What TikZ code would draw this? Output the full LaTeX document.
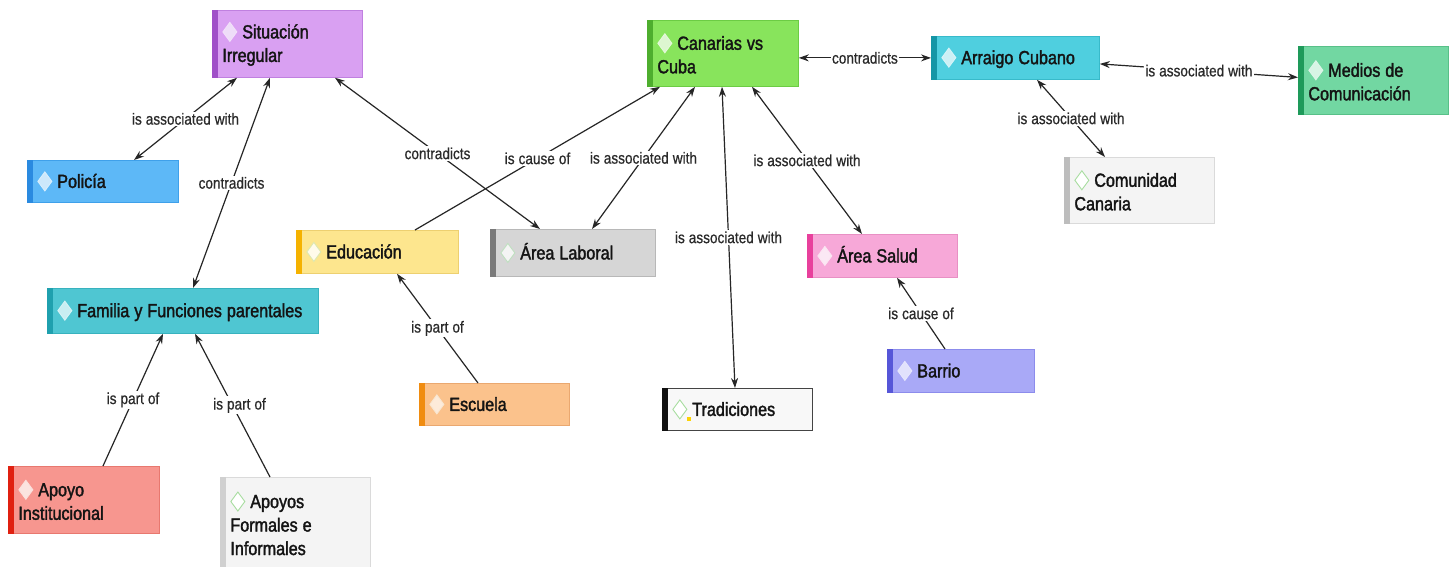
\documentclass[tikz,border=0pt]{standalone}
\usepackage{fontspec}
\setmainfont{Liberation Sans}[FakeStretch=0.85]
\newfontfamily\nodefont{Liberation Sans}[FakeStretch=0.85, FakeBold=1.8]
\newfontfamily\lblfont{Liberation Sans}[FakeStretch=0.85, FakeBold=0.7]
\usetikzlibrary{arrows.meta,calc}
\definecolor{txt}{HTML}{141414}
\definecolor{lbltxt}{HTML}{2A2A2A}
\definecolor{lin}{HTML}{262626}
\newcommand\defpal[6]{%
  \definecolor{#1f}{HTML}{#2}\definecolor{#1s}{HTML}{#3}\definecolor{#1b}{HTML}{#4}%
  \definecolor{#1d}{HTML}{#5}\definecolor{#1i}{HTML}{#6}}
% prefix, fill, stripe, border, diamond draw, diamond fill
\defpal{sit}{D9A0F2}{A050C8}{C080E0}{F2E0FA}{EEDDF8}
\defpal{pol}{5DB8F7}{2A8AE0}{3FA0EA}{D8EEFC}{CDE8FB}
\defpal{fam}{4FC6D2}{1FA0AE}{38B2BE}{D6F2F5}{C8EEF2}
\defpal{api}{F7968F}{E02010}{E8786F}{FBE0DC}{FBE4E0}
\defpal{apf}{F4F4F4}{D0D0D0}{DADADA}{A8DDA0}{FFFFFF}
\defpal{edu}{FDE68E}{F5B200}{EDD070}{DDE8B0}{FFFBEA}
\defpal{lab}{D6D6D6}{7A7A7A}{B8B8B8}{BFE0C0}{F4F4F4}
\defpal{esc}{FBC28C}{F08C10}{EAA870}{F8E6D0}{FDEBDA}
\defpal{can}{88E45C}{4EAE2E}{6CCC44}{E4F8DA}{DDF6D0}
\defpal{tra}{F8F8F8}{111111}{444444}{A8DDA0}{FFFFFF}
\defpal{sal}{F7A8D8}{E8409C}{E890C4}{FCE4F2}{FBE8F4}
\defpal{bar}{A9A9F7}{5656D8}{8C8CEC}{E6E6FD}{E2E2FC}
\defpal{arr}{4FCFDF}{1596A6}{38BACA}{D6F4F8}{CCF0F5}
\defpal{com}{F4F4F4}{BDBDBD}{DADADA}{A8DDA0}{FFFFFF}
\defpal{med}{72D7A2}{1E9A5A}{58C088}{DDF5E8}{D8F4E5}
\newcommand\dmd[1]{\tikz[baseline=-6.5pt]\filldraw[draw=#1d,fill=#1i,line width=0.9pt]
  (0pt,0pt)--(7pt,9.5pt)--(14pt,0pt)--(7pt,-9.5pt)--cycle;\hspace{5pt}}
\newcommand\lb[1]{\spaceskip=4pt plus 1pt\relax #1}
\tikzset{
  cbox/.style={rectangle, anchor=north west, inner xsep=10pt, inner ysep=0pt,
    align=left, font=\nodefont\fontsize{19}{23.5}\selectfont, text=txt, line width=0.8pt},
  conn/.style={draw=lin, line width=1.2pt},
  both/.style={conn, {Stealth[length=10pt,width=7pt]}-{Stealth[length=10pt,width=7pt]}},
  one/.style={conn, -{Stealth[length=10pt,width=7pt]}},
  lbl/.style={fill=white, inner sep=1.5pt, font=\lblfont\fontsize{16}{18}\selectfont, text=lbltxt}
}
% name, x1, y1, w, h, textwidth, palette, text
\newcommand\cnode[8]{%
  \node[cbox, draw=#7b, fill=#7f, minimum width=#4, minimum height=#5, text width=#6pt] (#1) at (#2,#3) {\spaceskip=5pt plus 1pt\relax\dmd{#7}#8};
  \fill[#7s] (#1.north west) rectangle ([xshift=6pt]#1.south west);
}
\begin{document}
\begin{tikzpicture}[x=1pt,y=-1pt]
\fill[white] (0,0) rectangle (1456,567);
\useasboundingbox (0,0) rectangle (1456,567);

\cnode{sit}{212}{10}{150}{67}{130}{sit}{Situación\\Irregular}
\cnode{pol}{27}{160}{151}{42}{131}{pol}{Policía}
\cnode{fam}{47}{288}{271}{45}{251}{fam}{Familia y Funciones parentales}
\cnode{api}{8}{466}{151}{67}{131}{api}{Apoyo\\Institucional}
\cnode{apf}{220}{477}{150}{92}{130}{apf}{Apoyos\\Formales e\\Informales}
\cnode{edu}{296}{230}{162}{43}{142}{edu}{Educación}
\cnode{lab}{490}{229}{165}{47}{145}{lab}{Área Laboral}
\cnode{esc}{419}{383}{150}{42}{130}{esc}{Escuela}
\cnode{can}{647}{20}{151}{66}{131}{can}{Canarias vs\\Cuba}
\cnode{tra}{662}{388}{150}{42}{130}{tra}{Tradiciones}
\cnode{sal}{807}{234}{150}{43}{130}{sal}{Área Salud}
\cnode{bar}{887}{349}{147}{43}{127}{bar}{Barrio}
\cnode{arr}{931}{36}{168}{43}{148}{arr}{Arraigo Cubano}
\cnode{com}{1064}{157}{150}{66}{130}{com}{Comunidad\\Canaria}
\cnode{med}{1298}{46}{150}{68}{130}{med}{Medios de\\Comunicación}

% small yellow mark on Tradiciones icon
\fill[yellow!70!orange] ([xshift=25pt,yshift=-29pt]tra.north west) rectangle ([xshift=29pt,yshift=-33pt]tra.north west);

\draw[both] ([xshift=25pt]sit.south west) -- node[lbl]{\lb{is associated with}} ([xshift=107pt]pol.north west);
\draw[both] ([xshift=58pt]sit.south west) -- node[lbl]{contradicts} ([xshift=146pt]fam.north west);
\draw[both] ([xshift=123pt]sit.south west) -- node[lbl]{contradicts} ([xshift=50pt]lab.north west);
\draw[one] ([xshift=119pt]edu.north west) -- node[lbl]{\lb{is cause of}} ([xshift=13pt]can.south west);
\draw[both] ([xshift=102pt]lab.north west) -- node[lbl]{\lb{is associated with}} ([xshift=48pt]can.south west);
\draw[both] ([xshift=75pt]can.south west) -- node[lbl]{\lb{is associated with}} ([xshift=73pt]tra.north west);
\draw[both] ([xshift=105pt]can.south west) -- node[lbl]{\lb{is associated with}} ([xshift=55pt]sal.north west);
\draw[both] (can.east |- arr.west) -- node[lbl]{contradicts} (arr.west);
\draw[both] ([yshift=-6pt]arr.east) -- node[lbl]{\lb{is associated with}} ([yshift=3pt]med.west);
\draw[both] ([xshift=106pt]arr.south west) -- node[lbl]{\lb{is associated with}} ([xshift=41pt]com.north west);
\draw[one] ([xshift=59pt]esc.north west) -- node[lbl]{\lb{is part of}} ([xshift=101pt]edu.south west);
\draw[one] ([xshift=58pt]bar.north west) -- node[lbl]{\lb{is cause of}} ([xshift=90pt]sal.south west);
\draw[one] ([xshift=95pt]api.north west) -- node[lbl]{\lb{is part of}} ([xshift=116pt]fam.south west);
\draw[one] ([xshift=50pt]apf.north west) -- node[lbl, xshift=7pt]{\lb{is part of}} ([xshift=148pt]fam.south west);
\end{tikzpicture}
\end{document}
